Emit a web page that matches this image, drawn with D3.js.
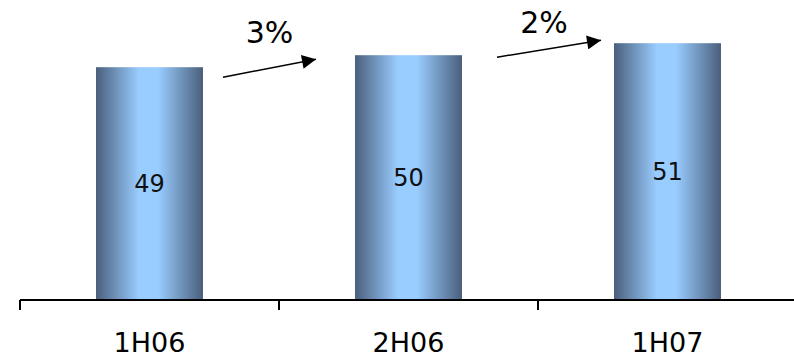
<!DOCTYPE html>
<html>
<head>
<meta charset="utf-8">
<script src="https://cdn.jsdelivr.net/npm/d3@7"></script>
<style>
  body { margin: 0; background: #fff; }
  svg { display: block; }
</style>
</head>
<body>
<div id="chart"></div>
<script>
// data
var periods = ["1H06", "2H06", "1H07"];
var values = [49, 50, 51];
var growthLabels = ["3%", "2%"];

var width = 794, height = 357;
var axisY = 300;

var svg = d3.select("#chart")
  .append("svg")
    .attr("width", width)
    .attr("height", height);

var defs = svg.append("defs");
var grad = defs.append("linearGradient")
    .attr("id", "barGrad")
    .attr("x1", "0%").attr("x2", "100%")
    .attr("y1", "0%").attr("y2", "0%");
grad.append("stop").attr("offset", "0%").attr("stop-color", "#4a5f7c");
grad.append("stop").attr("offset", "40%").attr("stop-color", "#99ccff");
grad.append("stop").attr("offset", "58%").attr("stop-color", "#99ccff");
grad.append("stop").attr("offset", "100%").attr("stop-color", "#4a5f7c");

var marker = defs.append("marker")
    .attr("id", "head")
    .attr("viewBox", "0 0 10 10")
    .attr("refX", 10).attr("refY", 5)
    .attr("markerUnits", "userSpaceOnUse")
    .attr("markerWidth", 17).attr("markerHeight", 14)
    .attr("orient", "auto");
marker.append("path").attr("d", "M0,0 L10,5 L0,10 Z").attr("fill", "#000");

var x = d3.scaleBand()
    .domain(periods)
    .range([20, 797])
    .paddingInner(0.587)
    .paddingOuter(0.2935);

// value axis does not start at zero in the original
var y = d3.scaleLinear()
    .domain([29.6, 54.6])
    .range([axisY, 0]);

// bars
svg.append("g")
  .selectAll("rect")
  .data(values)
  .join("rect")
    .attr("x", (d, i) => x(periods[i]))
    .attr("y", d => y(d))
    .attr("width", x.bandwidth())
    .attr("height", d => axisY - y(d))
    .attr("fill", "url(#barGrad)");

// value labels
svg.append("g")
    .attr("font-family", "DejaVu Sans, Verdana, sans-serif")
    .attr("font-size", 24)
    .attr("text-anchor", "middle")
    .attr("fill", "#111")
  .selectAll("text")
  .data(values)
  .join("text")
    .attr("x", (d, i) => x(periods[i]) + x.bandwidth() / 2)
    .attr("y", d => (y(d) + axisY) / 2)
    .attr("dy", "0.36em")
    .text(d => d);

// category axis with ticks between categories
var step = x.step();
var axis = svg.append("g").attr("stroke", "#000").attr("stroke-width", 2);
axis.append("line")
    .attr("x1", 20).attr("x2", width)
    .attr("y1", axisY).attr("y2", axisY);
axis.selectAll("line.tick")
  .data(d3.range(periods.length + 1))
  .join("line")
    .attr("class", "tick")
    .attr("x1", i => 20 + i * step).attr("x2", i => 20 + i * step)
    .attr("y1", axisY).attr("y2", axisY + 10);

svg.append("g")
    .attr("font-family", "DejaVu Sans, Verdana, sans-serif")
    .attr("font-size", 27)
    .attr("text-anchor", "middle")
    .attr("fill", "#000")
  .selectAll("text")
  .data(periods)
  .join("text")
    .attr("x", d => x(d) + x.bandwidth() / 2)
    .attr("y", 352)
    .text(d => d);

// growth arrows between bars (hand-placed offsets, like the original slide)
var arrowOffsets = [
  {sx: 20, sy: 10, ex: -39, ey: 4, tx: 0, ty: -16},
  {sx: 35, sy: 2, ex: -13, ey: -3, tx: -5, ty: -7}
];
var arrows = svg.append("g");
growthLabels.forEach(function(lbl, i) {
  var o = arrowOffsets[i];
  var x0 = x(periods[i]) + x.bandwidth() + o.sx;
  var x1 = x(periods[i + 1]) + o.ex;
  var y0 = y(values[i]) + o.sy;
  var y1 = y(values[i + 1]) + o.ey;
  arrows.append("line")
      .attr("x1", x0).attr("y1", y0)
      .attr("x2", x1).attr("y2", y1)
      .attr("stroke", "#000")
      .attr("stroke-width", 1.5)
      .attr("marker-end", "url(#head)");
  arrows.append("text")
      .attr("x", (x0 + x1) / 2 + o.tx)
      .attr("y", y1 + o.ty)
      .attr("font-family", "DejaVu Sans, Verdana, sans-serif")
      .attr("font-size", 30)
      .attr("text-anchor", "middle")
      .attr("fill", "#000")
      .text(lbl);
});
</script>
</body>
</html>
